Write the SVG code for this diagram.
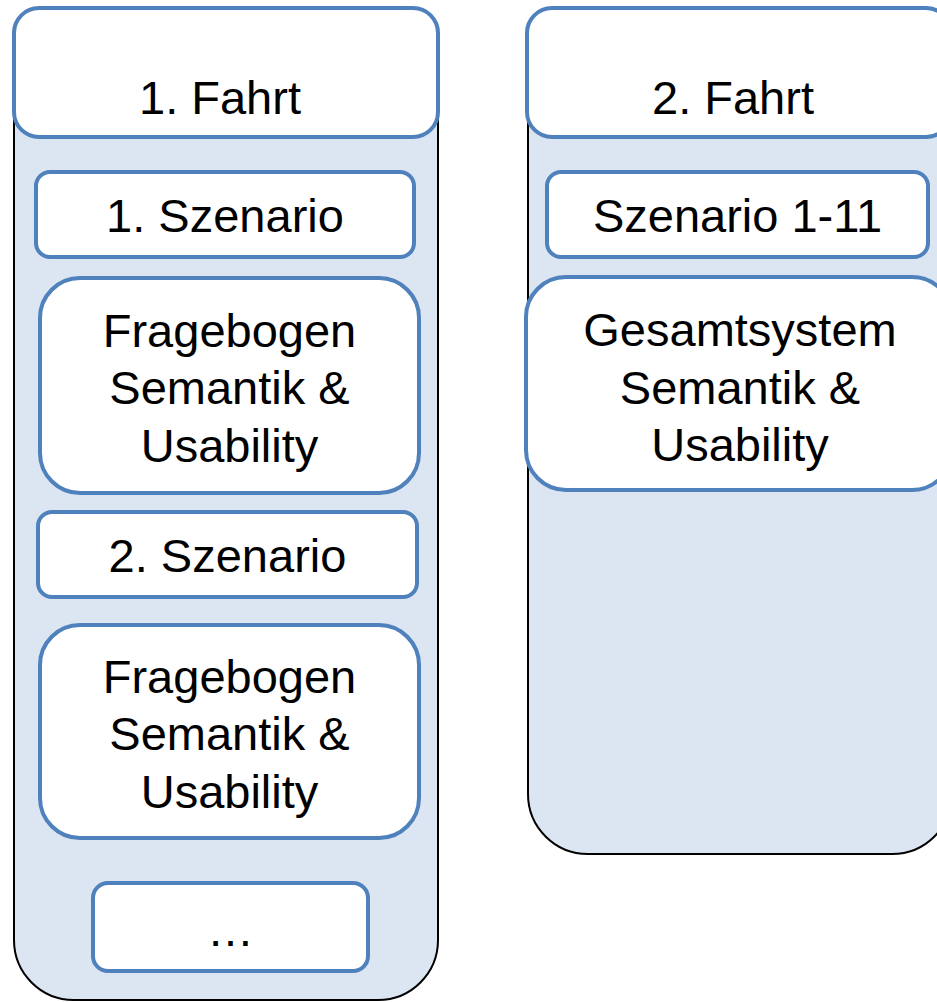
<svg xmlns="http://www.w3.org/2000/svg" width="937" height="1002" viewBox="0 0 937 1002">
<style>
.outer{fill:#dce6f2;stroke:#000;stroke-width:2}
.box{fill:#fff;stroke:#4f81bd;stroke-width:4}
.t{font-family:"Liberation Sans",Arial,sans-serif;font-size:47px;fill:#000;text-anchor:middle}
</style>
<rect width="937" height="1002" fill="#fff"/>
<g id="fahrt1-container">
<rect class="outer" x="14" y="30" width="424" height="970" rx="60" ry="60"/>
</g>
<g id="fahrt2-container">
<rect class="outer" x="528" y="30" width="424" height="824" rx="60" ry="60"/>
</g>
<g id="fahrt1">
<rect class="box" x="14" y="8" width="424" height="129" rx="25" ry="25"/>
<text class="t" x="220" y="114">1. Fahrt</text>
</g>
<g id="szenario1">
<rect class="box" x="36" y="172" width="378" height="85" rx="14" ry="14"/>
<text class="t" x="225" y="232">1. Szenario</text>
</g>
<g id="fragebogen1">
<rect class="box" x="40" y="278" width="379" height="215" rx="40" ry="40"/>
<text class="t" x="229.5" y="347">Fragebogen</text>
<text class="t" x="229.5" y="404">Semantik &amp;</text>
<text class="t" x="229.5" y="462">Usability</text>
</g>
<g id="szenario2">
<rect class="box" x="38" y="512" width="379" height="85" rx="14" ry="14"/>
<text class="t" x="227.5" y="572">2. Szenario</text>
</g>
<g id="fragebogen2">
<rect class="box" x="40" y="625" width="379" height="213" rx="40" ry="40"/>
<text class="t" x="229.5" y="693">Fragebogen</text>
<text class="t" x="229.5" y="750">Semantik &amp;</text>
<text class="t" x="229.5" y="808">Usability</text>
</g>
<g id="more">
<rect class="box" x="93" y="883" width="275" height="88" rx="15" ry="15"/>
<text class="t" x="230.5" y="946">…</text>
</g>
<g id="fahrt2">
<rect class="box" x="527" y="8" width="424" height="129" rx="25" ry="25"/>
<text class="t" x="733" y="114">2. Fahrt</text>
</g>
<g id="szenario-1-11">
<rect class="box" x="547" y="172" width="381" height="85" rx="14" ry="14"/>
<text class="t" x="737.5" y="232">Szenario 1-11</text>
</g>
<g id="gesamtsystem">
<rect class="box" x="526" y="277" width="426" height="213" rx="40" ry="40"/>
<text class="t" x="740" y="346">Gesamtsystem</text>
<text class="t" x="740" y="404">Semantik &amp;</text>
<text class="t" x="740" y="461">Usability</text>
</g>
<g id="connectors"></g>
</svg>
